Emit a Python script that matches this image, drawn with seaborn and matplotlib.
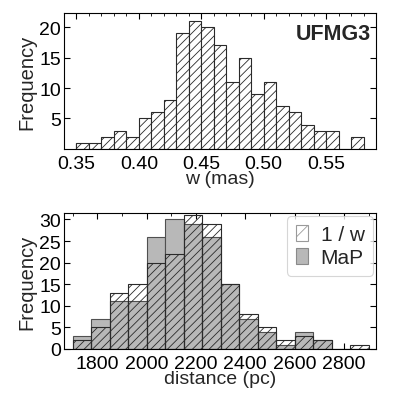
import matplotlib
matplotlib.use("Agg")
import matplotlib.pyplot as plt
import seaborn as sns
import numpy as np
from matplotlib.patches import Patch
from matplotlib.ticker import MultipleLocator

sns.set_theme(style="white")
plt.rcParams['font.family'] = ['Liberation Sans', 'DejaVu Sans']
plt.rcParams['hatch.linewidth'] = 0.6

# ---- data: parallax histogram ----
w_edges = [0.35, 0.36, 0.37, 0.38, 0.39, 0.40, 0.41, 0.42, 0.43, 0.44, 0.45, 0.46,
           0.47, 0.48, 0.49, 0.50, 0.51, 0.52, 0.53, 0.54, 0.55, 0.56, 0.57, 0.58]
w_counts = [1, 1, 2, 3, 2, 5, 6, 8, 19, 21, 20, 17, 11, 15, 9, 11, 7, 6, 4, 3, 3, 0, 2]

# ---- data: distance histograms ----
d_edges = [1700, 1775, 1850, 1925, 2000, 2075, 2150, 2225, 2300, 2375, 2450,
           2525, 2600, 2675, 2750, 2825, 2900]
inv_w_counts = [2, 5, 13, 15, 20, 22, 31, 29, 15, 8, 5, 2, 3, 2, 0, 1]
map_counts = [3, 7, 11, 11, 26, 30, 29, 26, 15, 7, 4, 1, 4, 2, 0, 0]

cluster = "UFMG3"
w_xticks = [0.35, 0.40, 0.45, 0.50, 0.55]
w_yticks = [5, 10, 15, 20]
d_xticks = [1800, 2000, 2200, 2400, 2600, 2800]
d_yticks = [0, 5, 10, 15, 20, 25, 30]

w_centers = [(a + b) / 2 for a, b in zip(w_edges[:-1], w_edges[1:])]
d_centers = [(a + b) / 2 for a, b in zip(d_edges[:-1], d_edges[1:])]

fig = plt.figure(figsize=(3.95, 4.02), dpi=100)
ax1 = fig.add_axes([0.162, 0.6269, 0.790, 0.3383])
ax2 = fig.add_axes([0.162, 0.1294, 0.790, 0.3383])

FS = 14

# top panel
sns.histplot(x=w_centers, weights=w_counts, bins=w_edges, ax=ax1,
             color="white", edgecolor="#2a2a2a", linewidth=0.8, alpha=1)
for p in ax1.patches:
    p.set_hatch("////")
    p.set_facecolor("white")
ax1.set_xlim(0.34, 0.59)
ax1.set_ylim(0, 22.3)
ax1.set_xticks(w_xticks)
ax1.set_xticklabels([f"{t:.2f}" for t in w_xticks])
ax1.xaxis.set_minor_locator(MultipleLocator(0.01))
ax1.set_yticks(w_yticks)
ax1.set_xlabel("w (mas)", fontsize=FS, labelpad=-1)
ax1.set_ylabel("Frequency", fontsize=14.5, labelpad=2)
ax1.text(0.985, 0.93, cluster, transform=ax1.transAxes, ha="right", va="top",
         fontsize=15.5, fontweight="bold")

# bottom panel
sns.histplot(x=d_centers, weights=map_counts, bins=d_edges, ax=ax2,
             color="#b8b8b8", edgecolor="#505050", linewidth=0.8, alpha=1)
n_map = len(ax2.patches)
sns.histplot(x=d_centers, weights=inv_w_counts, bins=d_edges, ax=ax2,
             color="white", edgecolor="#2a2a2a", linewidth=0.8, alpha=1)
for p in ax2.patches[n_map:]:
    p.set_hatch("////")
    p.set_facecolor((1, 1, 1, 0))
ax2.set_xlim(1665, 2930)
ax2.set_ylim(0, 31.5)
ax2.set_xticks(d_xticks)
ax2.xaxis.set_minor_locator(MultipleLocator(100))
ax2.set_yticks(d_yticks)
ax2.set_xlabel("distance (pc)", fontsize=FS, labelpad=-1)
ax2.set_ylabel("Frequency", fontsize=14.5, labelpad=2)

handles = [Patch(facecolor="white", edgecolor="#9a9a9a", hatch="/", linewidth=0.8),
           Patch(facecolor="#b8b8b8", edgecolor="#8a8a8a", linewidth=0.8)]
leg = ax2.legend(handles, ["1 / w", "MaP"], loc="upper right",
                 bbox_to_anchor=(0.99, 0.975), borderaxespad=0, fontsize=15,
                 handlelength=0.6, handleheight=0.8, handletextpad=0.6,
                 labelspacing=0.2, borderpad=0.4, frameon=True, fancybox=True)
leg.get_frame().set_edgecolor("#cccccc")
leg.get_frame().set_linewidth(0.8)

for ax in (ax1, ax2):
    for s in ax.spines.values():
        s.set_color("black")
        s.set_linewidth(0.8)
        s.set_visible(True)
    ax.tick_params(which="both", direction="in", top=True, right=True,
                   bottom=True, left=True, colors="black", labelsize=FS)
    ax.tick_params(which="major", length=4, width=0.8, pad=2)
    ax.tick_params(which="minor", length=2, width=0.6)
    ax.tick_params(axis="x", which="major", pad=4)
    ax.set_facecolor("white")

fig.savefig("out.png", dpi=100, facecolor="white")
